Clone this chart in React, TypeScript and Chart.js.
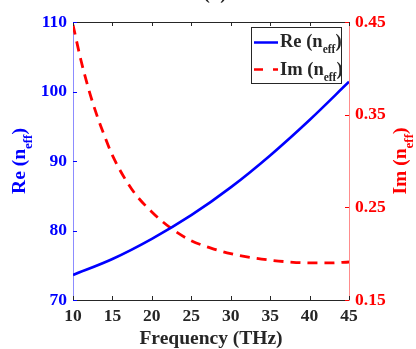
import React, { useEffect, useRef } from "react";
import { Chart, registerables } from "chart.js";

Chart.register(...registerables);

const reFreq = [10, 15, 20, 25, 30, 35, 40, 45];
const reVals = [73.6, 75.9, 78.8, 82.2, 86.2, 90.8, 95.9, 101.4];
const imFreq = [10, 11, 12, 13, 14, 15, 17.5, 20, 22.5, 25, 27.5, 30, 32.5, 35, 37.5, 40, 42.5, 45];
const imVals = [0.447, 0.409, 0.377, 0.35, 0.327, 0.306, 0.269, 0.245, 0.227, 0.214, 0.206, 0.2, 0.196, 0.193, 0.191, 0.19, 0.19, 0.191];
const xTicks = [10, 15, 20, 25, 30, 35, 40, 45];
const leftTicks = [70, 80, 90, 100, 110];
const rightTicks = [0.15, 0.25, 0.35, 0.45];

const FONT = "'Liberation Serif', 'Times New Roman', serif";
const BLUE = "#0000ff";
const RED = "#ff0000";
const DARK = "#262626";

function drawSubText(
  ctx: CanvasRenderingContext2D,
  main: string,
  sub: string,
  tail: string,
  x: number,
  y: number,
  size: number,
  subSize: number,
  drop: number,
  align: "left" | "center"
) {
  ctx.textAlign = "left";
  ctx.textBaseline = "alphabetic";
  ctx.font = `bold ${size}px ${FONT}`;
  const w1 = ctx.measureText(main).width;
  const w3 = ctx.measureText(tail).width;
  ctx.font = `bold ${subSize}px ${FONT}`;
  const w2 = ctx.measureText(sub).width;
  const total = w1 + w2 + w3;
  let sx = align === "center" ? x - total / 2 : x;
  ctx.font = `bold ${size}px ${FONT}`;
  ctx.fillText(main, sx, y);
  sx += w1;
  ctx.font = `bold ${subSize}px ${FONT}`;
  ctx.fillText(sub, sx, y + drop);
  sx += w2;
  ctx.font = `bold ${size}px ${FONT}`;
  ctx.fillText(tail, sx, y);
}

const decorPlugin = {
  id: "decor",
  afterDraw(chart: any) {
    const ctx: CanvasRenderingContext2D = chart.ctx;
    const { left, right, top, bottom } = chart.chartArea;
    const xs = chart.scales.x;
    const yl = chart.scales.yL;
    const yr = chart.scales.yR;
    ctx.save();
    ctx.strokeStyle = DARK;
    ctx.lineWidth = 1;
    ctx.beginPath();
    ctx.moveTo(left, top + 0.5);
    ctx.lineTo(right, top + 0.5);
    ctx.stroke();
    xTicks.forEach((v) => {
      const px = Math.round(xs.getPixelForValue(v)) + 0.5;
      ctx.beginPath();
      ctx.moveTo(px, bottom);
      ctx.lineTo(px, bottom - 4);
      ctx.moveTo(px, top);
      ctx.lineTo(px, top + 4);
      ctx.stroke();
    });
    ctx.strokeStyle = BLUE;
    leftTicks.forEach((v) => {
      const py = Math.round(yl.getPixelForValue(v)) + 0.5;
      ctx.beginPath();
      ctx.moveTo(left, py);
      ctx.lineTo(left + 4, py);
      ctx.stroke();
    });
    ctx.strokeStyle = RED;
    rightTicks.forEach((v) => {
      const py = Math.round(yr.getPixelForValue(v)) + 0.5;
      ctx.beginPath();
      ctx.moveTo(right, py);
      ctx.lineTo(right - 4, py);
      ctx.stroke();
    });

    ctx.fillStyle = DARK;
    ctx.font = `bold 19.5px ${FONT}`;
    ctx.textAlign = "center";
    ctx.textBaseline = "alphabetic";
    ctx.fillText("Frequency (THz)", (left + right) / 2, 344);

    ctx.font = `bold 19px ${FONT}`;
    ctx.fillText("(b)", 215, -1);

    ctx.save();
    ctx.translate(25, 161);
    ctx.rotate(-Math.PI / 2);
    ctx.fillStyle = BLUE;
    drawSubText(ctx, "Re (n", "eff", ")", 0, 0, 19.5, 13, 7, "center");
    ctx.restore();

    ctx.save();
    ctx.translate(406, 161);
    ctx.rotate(-Math.PI / 2);
    ctx.fillStyle = RED;
    drawSubText(ctx, "Im (n", "eff", ")", 0, 0, 19.5, 13, 7, "center");
    ctx.restore();

    ctx.fillStyle = "#ffffff";
    ctx.fillRect(251.5, 27.5, 90, 56);
    ctx.strokeStyle = DARK;
    ctx.lineWidth = 1;
    ctx.strokeRect(251.5, 27.5, 90, 56);
    ctx.lineWidth = 2.5;
    ctx.strokeStyle = BLUE;
    ctx.beginPath();
    ctx.moveTo(254, 42.5);
    ctx.lineTo(278, 42.5);
    ctx.stroke();
    ctx.strokeStyle = RED;
    ctx.setLineDash([9, 10]);
    ctx.beginPath();
    ctx.moveTo(254, 69.5);
    ctx.lineTo(278, 69.5);
    ctx.stroke();
    ctx.setLineDash([]);
    ctx.fillStyle = DARK;
    drawSubText(ctx, "Re (n", "eff", ")", 280, 47, 18.5, 11.5, 6, "left");
    drawSubText(ctx, "Im (n", "eff", ")", 280, 75, 18.5, 11.5, 6, "left");
    ctx.restore();
  },
};

export default function App() {
  const ref = useRef<HTMLCanvasElement>(null);
  useEffect(() => {
    document.body.style.margin = "0";
    const chart = new Chart(ref.current!, {
      type: "line",
      data: {
        datasets: [
          {
            label: "Re",
            data: reFreq.map((f, i) => ({ x: f, y: reVals[i] })),
            borderColor: BLUE,
            borderWidth: 2.6,
            pointRadius: 0,
            cubicInterpolationMode: "monotone",
            yAxisID: "yL",
          },
          {
            label: "Im",
            data: imFreq.map((f, i) => ({ x: f, y: imVals[i] })),
            borderColor: RED,
            borderWidth: 2.8,
            borderDash: [10, 7],
            pointRadius: 0,
            cubicInterpolationMode: "monotone",
            yAxisID: "yR",
          },
        ],
      },
      options: {
        animation: false,
        responsive: false,
        layout: { padding: { top: 22, left: 0, right: 0, bottom: 0 } },
        plugins: { legend: { display: false }, tooltip: { enabled: false } },
        scales: {
          x: {
            type: "linear",
            min: 10,
            max: 45,
            afterBuildTicks: (s: any) => {
              s.ticks = xTicks.map((v) => ({ value: v }));
            },
            afterFit: (s: any) => {
              s.height = 49;
            },
            grid: { display: false, drawTicks: false },
            border: { display: true, color: DARK, width: 1 },
            ticks: {
              color: DARK,
              font: { family: FONT, size: 17.5, weight: "bold" },
              padding: 6,
              maxRotation: 0,
              autoSkip: false,
            },
          },
          yL: {
            type: "linear",
            position: "left",
            min: 70,
            max: 110,
            afterBuildTicks: (s: any) => {
              s.ticks = leftTicks.map((v) => ({ value: v }));
            },
            afterFit: (s: any) => {
              s.width = 73;
            },
            grid: { display: false, drawTicks: false },
            border: { display: true, color: "#8c8cff", width: 1 },
            ticks: {
              color: BLUE,
              font: { family: FONT, size: 17.5, weight: "bold" },
              padding: 6,
              autoSkip: false,
            },
          },
          yR: {
            type: "linear",
            position: "right",
            min: 0.15,
            max: 0.45,
            afterBuildTicks: (s: any) => {
              s.ticks = rightTicks.map((v) => ({ value: v }));
            },
            afterFit: (s: any) => {
              s.width = 67;
            },
            grid: { display: false, drawTicks: false },
            border: { display: true, color: "#ff8c8c", width: 1 },
            ticks: {
              color: RED,
              font: { family: FONT, size: 17.5, weight: "bold" },
              padding: 6,
              autoSkip: false,
              callback: (v: any) => Number(v).toFixed(2),
            },
          },
        },
      },
      plugins: [decorPlugin],
    } as any);
    return () => chart.destroy();
  }, []);
  return (
    <div style={{ position: "fixed", left: 0, top: 0, width: 416, height: 349, background: "#fff" }}>
      <canvas ref={ref} width={416} height={349} />
    </div>
  );
}
